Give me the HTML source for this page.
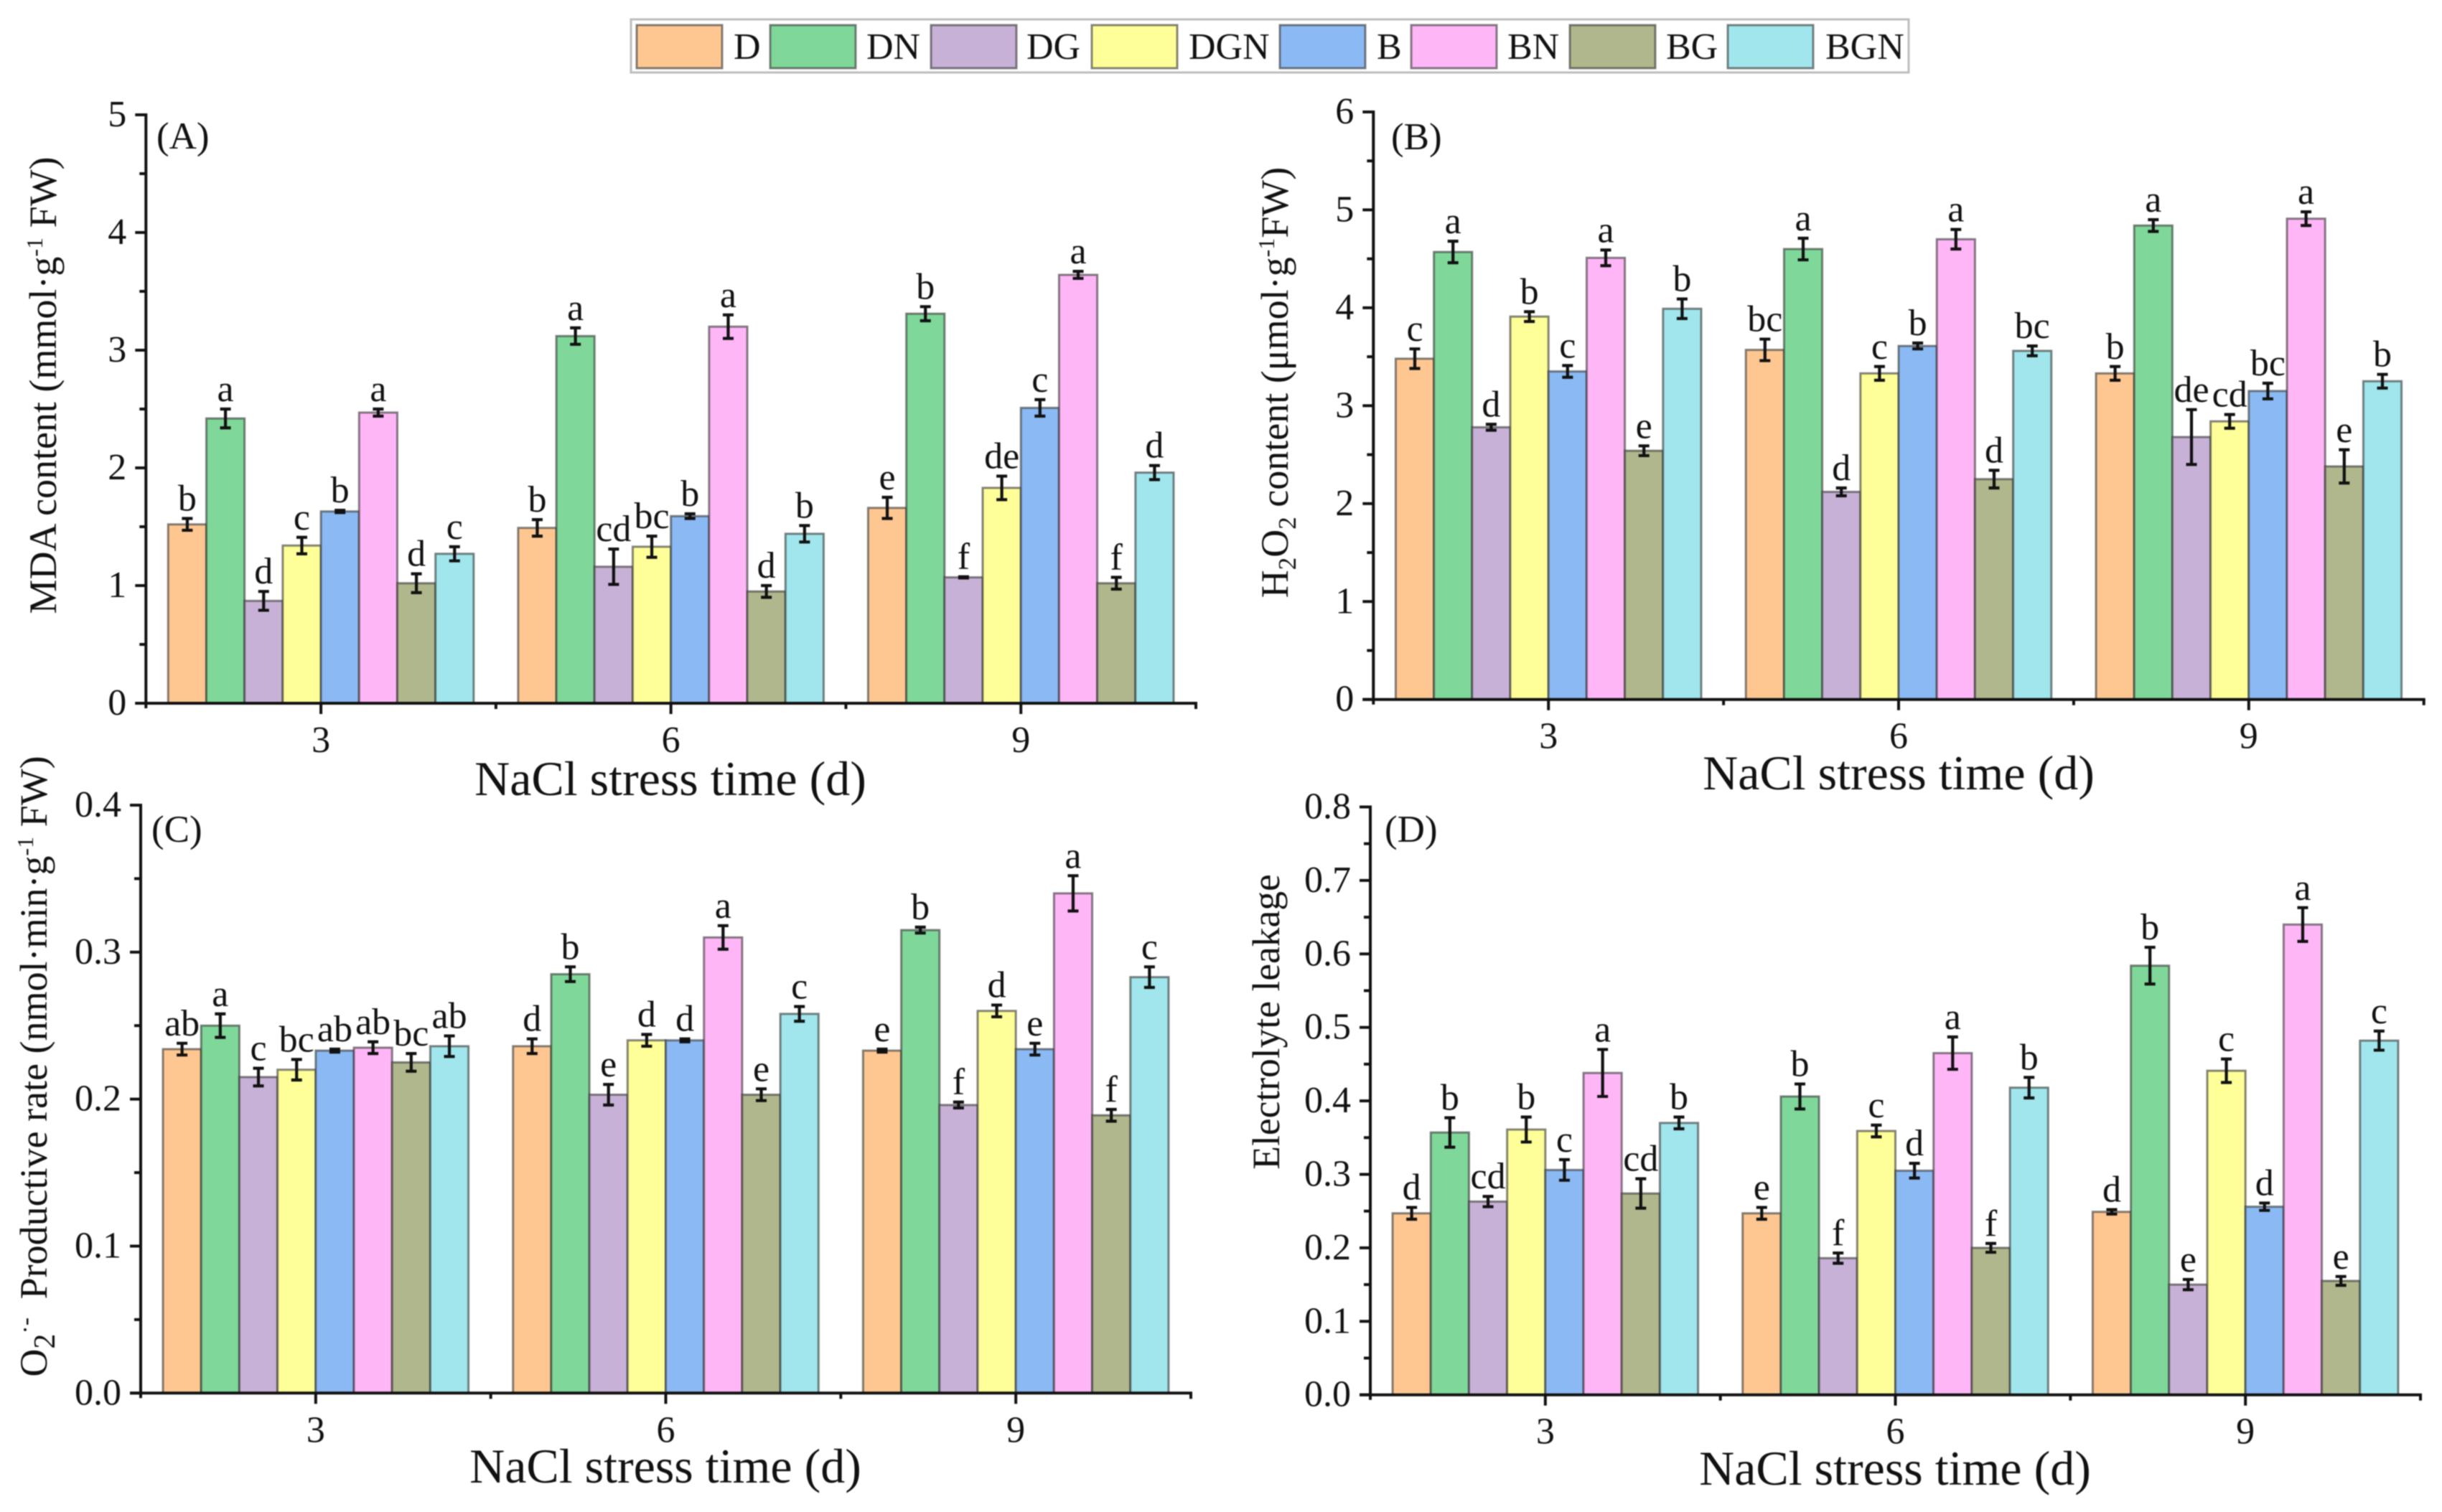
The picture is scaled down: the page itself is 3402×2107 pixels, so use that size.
<!DOCTYPE html>
<html lang="en">
<head>
<meta charset="utf-8">
<title>NaCl stress physiological indices</title>
<style>
html,body{margin:0;padding:0;background:#fff;width:3402px;height:2107px;overflow:hidden}
svg{display:block;filter:blur(0.9px)}
text{font-family:"Liberation Serif","DejaVu Serif",serif;fill:#111}
</style>
</head>
<body>
<svg id="chart" xmlns="http://www.w3.org/2000/svg" width="3402" height="2107" viewBox="0 0 3402 2107">
  <rect x="0" y="0" width="3402" height="2107" fill="#fff"/>
  <rect x="879" y="27" width="1780" height="74" fill="#fff" stroke="#bdbdbd" stroke-width="3"/>
  <g id="legend"></g>

  <g id="panel-a">
    <text x="218" y="207" font-size="53">(A)</text>
    <text transform="translate(78,537) rotate(-90)" text-anchor="middle" font-size="54">MDA content (mmol·g<tspan dy="-19" font-size="32">-1</tspan><tspan dy="19"> FW)</tspan></text>
    <text x="934" y="1108" text-anchor="middle" font-size="68">NaCl stress time (d)</text>
  </g>
  <g id="panel-b">
    <text x="1938" y="208" font-size="53">(B)</text>
    <text transform="translate(1794,533) rotate(-90)" text-anchor="middle" font-size="54">H<tspan dy="11" font-size="35">2</tspan><tspan dy="-11">O</tspan><tspan dy="11" font-size="35">2</tspan><tspan dy="-11"> content (μmol·g</tspan><tspan dy="-19" font-size="32">-1</tspan><tspan dy="19">FW)</tspan></text>
    <text x="2645" y="1100" text-anchor="middle" font-size="68">NaCl stress time (d)</text>
  </g>
  <g id="panel-c">
    <text x="211" y="1173" font-size="53">(C)</text>
    <text transform="translate(65,1486) rotate(-90)" text-anchor="middle" font-size="54">O<tspan dy="11" font-size="42">2</tspan><tspan dy="-30" font-size="34">·-</tspan><tspan dy="19" dx="12"> Productive rate (nmol·min·g</tspan><tspan dy="-19" font-size="32">-1</tspan><tspan dy="19"> FW)</tspan></text>
    <text x="927" y="2066" text-anchor="middle" font-size="68">NaCl stress time (d)</text>
  </g>
  <g id="panel-d">
    <text x="1929" y="1173" font-size="53">(D)</text>
    <text transform="translate(1782,1424) rotate(-90)" text-anchor="middle" font-size="53.5">Electrolyte leakage</text>
    <text x="2640" y="2069" text-anchor="middle" font-size="68">NaCl stress time (d)</text>
  </g>
</svg>
<script>
var seriesNames = ["D","DN","DG","DGN","B","BN","BG","BGN"];
var seriesColors = ["#fec791","#7fd899","#c7b1d6","#ffff99","#8ab9f3","#ffb6f7","#b0b78c","#a0e6ec"];
var timeLabels = ["3","6","9"];

var mdaTicks = ["0","1","2","3","4","5"];
var mdaValues = [
  [1.52,2.42,0.87,1.34,1.63,2.47,1.02,1.27],
  [1.49,3.12,1.16,1.33,1.59,3.20,0.95,1.44],
  [1.66,3.31,1.07,1.83,2.51,3.64,1.02,1.96]
];
var mdaErrors = [
  [0.05,0.08,0.08,0.07,0.01,0.03,0.08,0.06],
  [0.07,0.07,0.15,0.09,0.02,0.10,0.05,0.07],
  [0.09,0.06,0.005,0.10,0.07,0.03,0.05,0.06]
];
var mdaLetters = [
  ["b","a","d","c","b","a","d","c"],
  ["b","a","cd","bc","b","a","d","b"],
  ["e","b","f","de","c","a","f","d"]
];

var h2o2Ticks = ["0","1","2","3","4","5","6"];
var h2o2Values = [
  [3.48,4.57,2.78,3.91,3.35,4.51,2.54,3.99],
  [3.57,4.60,2.12,3.33,3.61,4.70,2.25,3.56],
  [3.33,4.84,2.68,2.84,3.15,4.91,2.38,3.25]
];
var h2o2Errors = [
  [0.10,0.11,0.03,0.05,0.06,0.08,0.05,0.10],
  [0.11,0.11,0.04,0.07,0.03,0.10,0.09,0.05],
  [0.07,0.06,0.28,0.07,0.08,0.07,0.17,0.07]
];
var h2o2Letters = [
  ["c","a","d","b","c","a","e","b"],
  ["bc","a","d","c","b","a","d","bc"],
  ["b","a","de","cd","bc","a","e","b"]
];

var o2Ticks = ["0.0","0.1","0.2","0.3","0.4"];
var o2Values = [
  [0.234,0.250,0.215,0.220,0.233,0.235,0.225,0.236],
  [0.236,0.285,0.203,0.240,0.240,0.310,0.203,0.258],
  [0.233,0.315,0.196,0.260,0.234,0.340,0.189,0.283]
];
var o2Errors = [
  [0.004,0.008,0.006,0.007,0.001,0.004,0.006,0.007],
  [0.005,0.005,0.007,0.004,0.001,0.008,0.004,0.005],
  [0.001,0.002,0.002,0.004,0.004,0.012,0.004,0.007]
];
var o2Letters = [
  ["ab","a","c","bc","ab","ab","bc","ab"],
  ["d","b","e","d","d","a","e","c"],
  ["e","b","f","d","e","a","f","c"]
];

var leakTicks = ["0.0","0.1","0.2","0.3","0.4","0.5","0.6","0.7","0.8"];
var leakValues = [
  [0.247,0.357,0.263,0.361,0.306,0.438,0.274,0.370],
  [0.247,0.406,0.186,0.359,0.305,0.465,0.200,0.418],
  [0.249,0.584,0.150,0.441,0.256,0.640,0.155,0.482]
];
var leakErrors = [
  [0.008,0.020,0.007,0.017,0.014,0.032,0.020,0.008],
  [0.008,0.017,0.007,0.008,0.010,0.022,0.006,0.014],
  [0.003,0.025,0.007,0.016,0.005,0.023,0.006,0.013]
];
var leakLetters = [
  ["d","b","cd","b","c","a","cd","b"],
  ["e","b","f","c","d","a","f","b"],
  ["d","b","e","c","d","a","e","c"]
];

var SVGNS = "http://www.w3.org/2000/svg";
var BAR_W = 53.2;
var BAR_STROKE = "rgba(50,50,50,0.6)";

function make(tag, attrs, parent) {
  var n = document.createElementNS(SVGNS, tag);
  for (var k in attrs) { n.setAttribute(k, attrs[k]); }
  parent.appendChild(n);
  return n;
}

function drawLegend() {
  var g = document.getElementById("legend");
  var swatchLeft = [887,1073,1297,1521,1783,1966,2187,2407];
  var textLeft = [1022,1207,1430,1656,1918,2100,2321,2543];
  seriesNames.forEach(function (name, i) {
    var r = make("rect", {x: swatchLeft[i], y: 35, width: 119, height: 60, fill: seriesColors[i], stroke: BAR_STROKE, "stroke-width": 3}, g);
    
    
    var t = make("text", {x: textLeft[i], y: 82, "font-size": 52}, g);
    t.textContent = name;
    
    
  });
}

function drawPanel(id, box, ticks, values, errors, letters) {
  var g = document.getElementById("panel-" + id);
  var yMax = parseFloat(ticks[ticks.length - 1]);
  var yScale = function (v) { return box.y0 - v / yMax * (box.y0 - box.yTop); };
  var groupW = (box.xRight - box.xLeft) / timeLabels.length;
  var xScale = function (group, series) {
    return box.xLeft + (group + 0.5) * groupW + (series - 3.5) * BAR_W;
  };

  values.forEach(function (row, gi) {
    row.forEach(function (v, si) {
      var cx = xScale(gi, si);
      var top = yScale(v);
      var bar = make("rect", {x: cx - BAR_W / 2, y: top, width: BAR_W, height: box.y0 - top, fill: seriesColors[si], stroke: BAR_STROKE, "stroke-width": 3}, g);
      
      
    });
  });

  values.forEach(function (row, gi) {
    row.forEach(function (v, si) {
      var cx = xScale(gi, si);
      var hi = yScale(v + errors[gi][si]);
      var lo = yScale(v - errors[gi][si]);
      var d = "M" + (cx - 7.5) + " " + hi + "H" + (cx + 7.5) + "M" + cx + " " + hi + "V" + lo + "M" + (cx - 7.5) + " " + lo + "H" + (cx + 7.5);
      var err = make("path", {d: d, fill: "none", stroke: "#111", "stroke-width": 4.2}, g);
      
      
      var lab = make("text", {x: cx, y: hi - 11, "text-anchor": "middle", "font-size": 52}, g);
      lab.textContent = letters[gi][si];
      
      
    });
  });

  var yAxis = make("line", {x1: box.xLeft, x2: box.xLeft, y1: box.yTop - 2, y2: box.y0 + 7, stroke: "#111", "stroke-width": 4}, g);
  
  
  var xAxis = make("line", {x1: box.xLeft - 15, x2: box.xRight + 2, y1: box.y0, y2: box.y0, stroke: "#111", "stroke-width": 4}, g);
  
  

  ticks.forEach(function (label, i) {
    var v = parseFloat(label);
    var y = yScale(v);
    var tick = make("line", {x1: box.xLeft - 15, x2: box.xLeft, y1: y, y2: y, stroke: "#111", "stroke-width": 4}, g);
    
    
    var t = make("text", {x: box.xLeft - 27, y: y + 16, "text-anchor": "end", "font-size": 52}, g);
    t.textContent = label;
    
    
    if (i < ticks.length - 1) {
      var ym = yScale((v + parseFloat(ticks[i + 1])) / 2);
      var minor = make("line", {x1: box.xLeft - 9, x2: box.xLeft, y1: ym, y2: ym, stroke: "#111", "stroke-width": 4}, g);
      
      
    }
  });

  timeLabels.forEach(function (label, i) {
    var x = box.xLeft + (i + 0.5) * groupW;
    var tick = make("line", {x1: x, x2: x, y1: box.y0, y2: box.y0 + 15, stroke: "#111", "stroke-width": 4}, g);
    
    
    var t = make("text", {x: x, y: box.y0 + 68, "text-anchor": "middle", "font-size": 52}, g);
    t.textContent = label;
    
    
    var xb = box.xLeft + (i + 1) * groupW;
    var minor = make("line", {x1: xb, x2: xb, y1: box.y0, y2: box.y0 + 8, stroke: "#111", "stroke-width": 4}, g);
    
    
  });
}

drawLegend();
drawPanel("a", {xLeft: 203.3, xRight: 1666, yTop: 160, y0: 980}, mdaTicks, mdaValues, mdaErrors, mdaLetters);
drawPanel("b", {xLeft: 1913.3, xRight: 3376.7, yTop: 156, y0: 974.7}, h2o2Ticks, h2o2Values, h2o2Errors, h2o2Letters);
drawPanel("c", {xLeft: 196, xRight: 1659, yTop: 1122, y0: 1941.3}, o2Ticks, o2Values, o2Errors, o2Letters);
drawPanel("d", {xLeft: 1909, xRight: 3372, yTop: 1124.5, y0: 1943.7}, leakTicks, leakValues, leakErrors, leakLetters);
</script>
</body>
</html>
